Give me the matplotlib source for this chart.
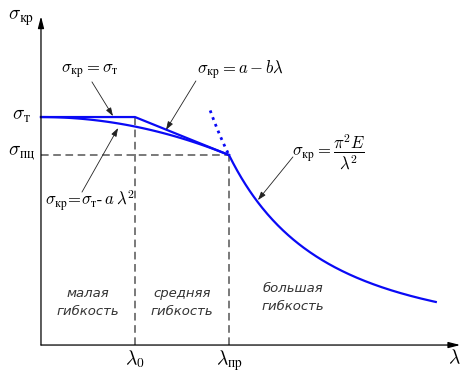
import numpy as np
import matplotlib
matplotlib.use("Agg")
import matplotlib.pyplot as plt

plt.rcParams["mathtext.fontset"] = "cm"
plt.rcParams["font.family"] = ["DejaVu Sans"]

# key values of the diagram (λ in units where λпр = 100, σ where σпц = 200)
lam0 = 50.0          # λ0
lam_pr = 100.0       # λпр
sigma_t = 240.0      # σт
sigma_pc = 200.0     # σпц
lam_end = 210.0      # end of Euler curve
lam_dot = 90.0       # start of the dotted Euler extension

regions = ["малая\nгибкость", "средняя\nгибкость", "большая\nгибкость"]
region_x = [25.0, 75.0, 134.0]
region_y = [45.0, 45.0, 50.0]

BLUE = "#0a0af5"
GRAY = "#555555"

fig = plt.figure(figsize=(4.7, 3.76), dpi=100)
ax = fig.add_axes([0, 0, 1, 1])
ax.set_xlim(-21.8, 228.2)
ax.set_ylim(-32.6, 363.2)
ax.axis("off")

# axes with arrows
arrow = dict(arrowstyle="-|>,head_length=0.7,head_width=0.18", color="black", lw=0.9,
             shrinkA=0, shrinkB=0)
ax.annotate("", xy=(0, 346), xytext=(0, 0), arrowprops=arrow)
ax.annotate("", xy=(223, 0), xytext=(0, 0), arrowprops=arrow)

# dashed guides
dash = dict(color=GRAY, lw=1.1, dashes=(5, 3))
ax.plot([0, lam_pr], [sigma_pc, sigma_pc], **dash)
ax.plot([lam0, lam0], [0, sigma_t], **dash)
ax.plot([lam_pr, lam_pr], [0, sigma_pc], **dash)

# σкр = σт, then straight line a - bλ
ax.plot([0, lam0, lam_pr], [sigma_t, sigma_t, sigma_pc], color=BLUE, lw=1.6,
        solid_joinstyle="miter")
# parabola σт - aλ²
lp = np.linspace(0, lam_pr, 100)
a = (sigma_t - sigma_pc) / lam_pr**2
ax.plot(lp, sigma_t - a * lp**2, color=BLUE, lw=1.6)
# Euler hyperbola
C = sigma_pc * lam_pr**2
le = np.linspace(lam_pr, lam_end, 200)
ax.plot(le, C / le**2, color=BLUE, lw=1.6)
ld = np.linspace(lam_dot, lam_pr, 20)
ax.plot(ld, C / ld**2, color=BLUE, lw=2, ls=(0, (1, 1.6)))

# axis labels
fs = 14
ax.text(-17.5, 344, r"$\sigma_{\mathrm{кр}}$", fontsize=fs, ha="left", va="center")
ax.text(-10.5, sigma_t + 2, r"$\sigma_{\mathrm{т}}$", fontsize=fs, ha="center", va="center")
ax.text(-10.5, sigma_pc + 2, r"$\sigma_{\mathrm{пц}}$", fontsize=fs, ha="center", va="center")
ax.text(lam0, -15, r"$\lambda_0$", fontsize=fs, ha="center", va="center")
ax.text(lam_pr, -17, r"$\lambda_{\mathrm{пр}}$", fontsize=fs, ha="center", va="center")
ax.text(220, -13, r"$\lambda$", fontsize=fs, ha="center", va="center")

# formula callouts: text, then a thin arrow to the curve
thin = dict(arrowstyle="-|>,head_length=0.5,head_width=0.17", color="#222222", lw=0.6,
            shrinkA=0, shrinkB=0)
cfs = 12
ax.text(26, 287, r"$\sigma_{\mathrm{кр}} = \sigma_{\mathrm{т}}$", fontsize=cfs,
        ha="center", va="center")
ax.annotate("", xy=(38.3, 241), xytext=(27.1, 277), arrowprops=thin)

ax.text(106, 289, r"$\sigma_{\mathrm{кр}} = a - b\lambda$", fontsize=cfs,
        ha="center", va="center")
ax.annotate("", xy=(66.5, 226.5), xytext=(82.4, 278), arrowprops=thin)

ax.text(133.5, 203, r"$\sigma_{\mathrm{кр}} = \dfrac{\pi^2 E}{\lambda^2}$", fontsize=cfs,
        ha="left", va="center")
ax.annotate("", xy=(115.4, 152.6), xytext=(134, 198), arrowprops=thin)

ax.text(26, 152, r"$\sigma_{\mathrm{кр}}\!=\!\sigma_{\mathrm{т}}\text{-}\,a\,\lambda^2$",
        fontsize=cfs, ha="center", va="center")
ax.annotate("", xy=(41, 228.4), xytext=(21.8, 161), arrowprops=thin)

for txt, x, y in zip(regions, region_x, region_y):
    ax.text(x, y, txt, fontsize=9.5, style="italic", color="#333333", ha="center",
            va="center", linespacing=1.45)

fig.savefig("out.png", dpi=100)
